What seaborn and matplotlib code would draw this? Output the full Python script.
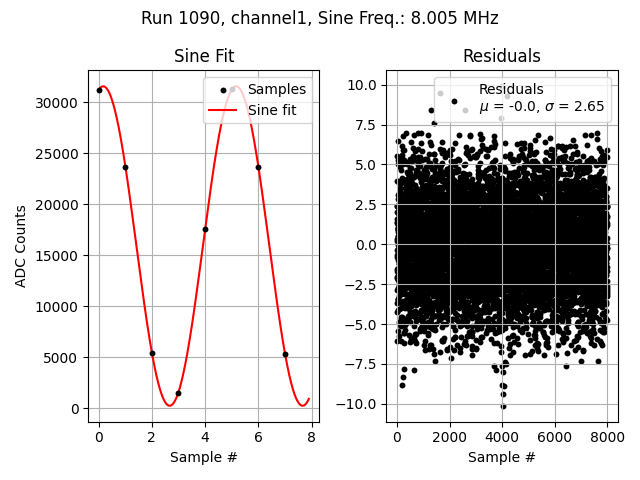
import numpy as np
import matplotlib
matplotlib.use("Agg")
import matplotlib.pyplot as plt
import seaborn as sns

# ADC samples shown in the left panel (first 8 of the record)
sample_idx = [0, 1, 2, 3, 4, 5, 6, 7]
sample_adc = [31180, 23650, 5400, 1540, 17570, 31300, 23650, 5310]

# sine fit parameters
fit_offset = 15900
fit_amplitude = 15650
fit_period = 4.997      # samples per cycle (8.005 MHz at ~40 MS/s)
fit_peak = 0.17         # sample position of first crest
fit_x_end = 7.9

# residuals: 8000 samples, mu = -0.0, sigma = 2.65
n_residuals = 8000
resid_sigma = 2.65
resid_cut = 7.0
# the visible outliers
outlier_x = [4035, 4050, 4010, 4075, 4020, 3980, 4120, 4000, 200, 230, 280, 650,
             1650, 4000, 3950, 1300, 2600, 6450, 7650, 2050, 1450, 3700, 3750,
             7000, 1420, 4180, 4150]
outlier_y = [-10.12, -9.4, -8.8, -8.9, -8.0, -7.6, -7.4, 10.35, -8.8, -8.3, -7.8, -7.9,
             9.5, 9.9, 7.9, 8.4, 8.4, -7.6, -7.3, -7.1, -7.3, -7.6, -7.9,
             -7.3, 7.6, 9.3, -7.5]

# the dense noise core cannot be read point by point, so it is drawn
# from a seeded normal with the sigma printed in the legend
rng = np.random.default_rng(1090)
residuals = rng.normal(0.0, resid_sigma, n_residuals)
bad = np.abs(residuals) > resid_cut
while bad.any():
    residuals[bad] = rng.normal(0.0, resid_sigma, bad.sum())
    bad = np.abs(residuals) > resid_cut
residuals[outlier_x] = outlier_y
resid_idx = np.arange(n_residuals)

fit_x = np.linspace(0, fit_x_end, 400)
fit_y = fit_offset + fit_amplitude * np.cos(2 * np.pi * (fit_x - fit_peak) / fit_period)

fig, (ax1, ax2) = plt.subplots(1, 2, figsize=(6.4, 4.8), dpi=100)

sns.scatterplot(x=sample_idx, y=sample_adc, ax=ax1, color='k', s=18,
                linewidth=0, label='Samples', zorder=3)
sns.lineplot(x=fit_x, y=fit_y, ax=ax1, color='red', label='Sine fit')
ax1.set_title('Sine Fit')
ax1.set_xlabel('Sample #')
ax1.set_ylabel('ADC Counts')
ax1.grid(True)
ax1.legend(loc='upper right')

sns.scatterplot(x=resid_idx, y=residuals, ax=ax2, color='k', s=18, linewidth=0,
                label='Residuals\n$\\mu$ = -0.0, $\\sigma$ = 2.65')
ax2.set_title('Residuals')
ax2.set_xlabel('Sample #')
ax2.grid(True)
ax2.legend(loc='upper right')

fig.suptitle('Run 1090, channel1, Sine Freq.: 8.005 MHz')
fig.tight_layout()
fig.savefig('out.png')
